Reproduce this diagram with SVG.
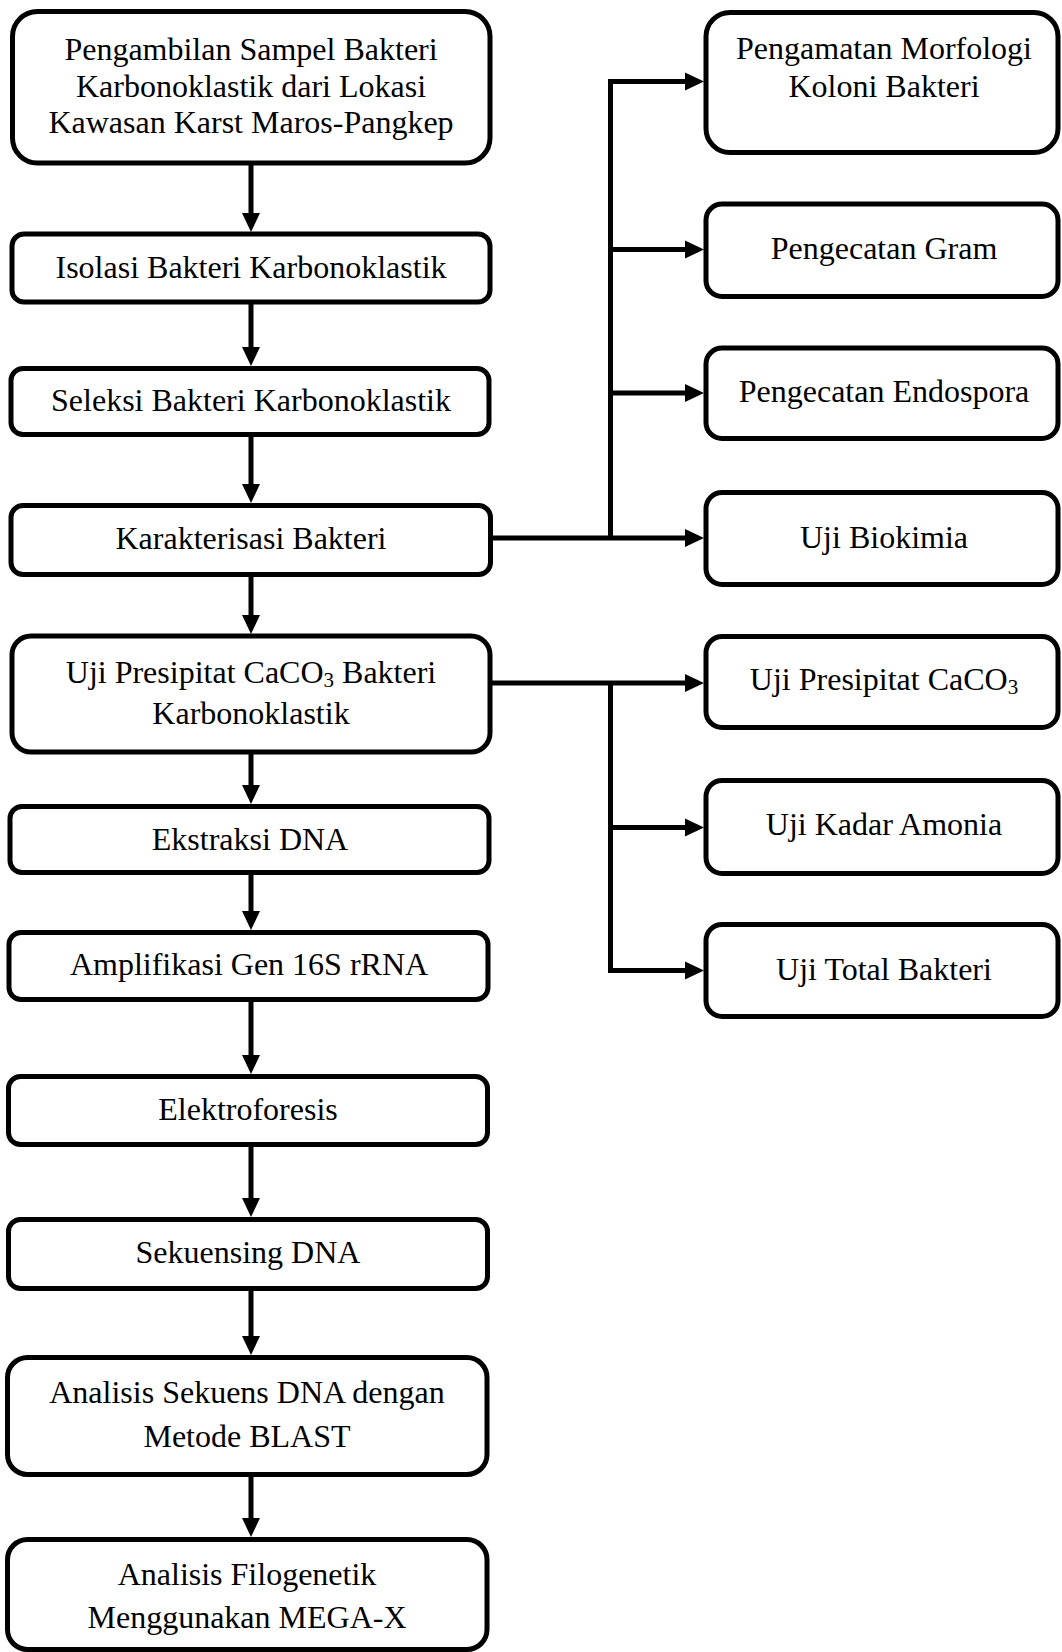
<svg xmlns="http://www.w3.org/2000/svg" width="1062" height="1652" viewBox="0 0 1062 1652">
  <style>
    .box { fill: #ffffff; stroke: #000000; stroke-width: 5; }
    .lbl { font-family: "Liberation Serif", "Times New Roman", serif; font-size: 32px; fill: #000000; text-anchor: middle; }
    .sub { font-size: 21px; }
    .con { fill: none; stroke: #000000; stroke-width: 5; stroke-linejoin: miter; stroke-linecap: butt; }
  </style>
  <defs>
    <marker id="ah" markerUnits="userSpaceOnUse" markerWidth="20" markerHeight="20" viewBox="0 0 20 20" refX="1" refY="10" orient="auto">
      <path d="M0,1 L19,10 L0,19 z" fill="#000000"/>
    </marker>
  </defs>
  <rect width="1062" height="1652" fill="#ffffff"/>

  <!-- connectors -->
  <g id="connectors">
    <!-- main column, top to bottom -->
    <path class="con" marker-end="url(#ah)" d="M251 165 V214"/>
    <path class="con" marker-end="url(#ah)" d="M251 304 V348"/>
    <path class="con" marker-end="url(#ah)" d="M251 437 V485"/>
    <path class="con" marker-end="url(#ah)" d="M251 577 V616"/>
    <path class="con" marker-end="url(#ah)" d="M251 754 V786"/>
    <path class="con" marker-end="url(#ah)" d="M251 875 V912"/>
    <path class="con" marker-end="url(#ah)" d="M251 1002 V1056"/>
    <path class="con" marker-end="url(#ah)" d="M251 1147 V1199"/>
    <path class="con" marker-end="url(#ah)" d="M251 1291 V1337"/>
    <path class="con" marker-end="url(#ah)" d="M251 1477 V1519"/>
    <!-- characterisation branch -->
    <path class="con" marker-end="url(#ah)" d="M490 538 H686"/>
    <path class="con" marker-end="url(#ah)" d="M610.5 538 V81.5 H686"/>
    <path class="con" marker-end="url(#ah)" d="M610.5 249.5 H686"/>
    <path class="con" marker-end="url(#ah)" d="M610.5 393 H686"/>
    <!-- precipitation branch -->
    <path class="con" marker-end="url(#ah)" d="M490 683 H686"/>
    <path class="con" marker-end="url(#ah)" d="M610.5 683 V970.5 H686"/>
    <path class="con" marker-end="url(#ah)" d="M610.5 827.5 H686"/>
  </g>

  <!-- main column -->
  <g id="n-sampling">
    <rect class="box" x="12.5" y="11.5" width="477.5" height="151.5" rx="25"/>
    <text class="lbl" x="251" y="60">Pengambilan Sampel Bakteri</text>
    <text class="lbl" x="251" y="96.5">Karbonoklastik dari Lokasi</text>
    <text class="lbl" x="251" y="133">Kawasan Karst Maros-Pangkep</text>
  </g>
  <g id="n-isolasi">
    <rect class="box" x="12" y="234" width="478" height="68" rx="12"/>
    <text class="lbl" x="251" y="278">Isolasi Bakteri Karbonoklastik</text>
  </g>
  <g id="n-seleksi">
    <rect class="box" x="11" y="368.5" width="478" height="66" rx="12"/>
    <text class="lbl" x="251" y="411">Seleksi Bakteri Karbonoklastik</text>
  </g>
  <g id="n-karakterisasi">
    <rect class="box" x="11" y="505.5" width="479.5" height="69" rx="12"/>
    <text class="lbl" x="251" y="549">Karakterisasi Bakteri</text>
  </g>
  <g id="n-presipitat">
    <rect class="box" x="12" y="636" width="478" height="116" rx="19"/>
    <text class="lbl" x="251" y="683">Uji Presipitat CaCO<tspan class="sub" dy="4">3</tspan><tspan dy="-4"> Bakteri</tspan></text>
    <text class="lbl" x="251" y="724">Karbonoklastik</text>
  </g>
  <g id="n-ekstraksi">
    <rect class="box" x="10" y="806.5" width="479" height="66" rx="12"/>
    <text class="lbl" x="250" y="850">Ekstraksi DNA</text>
  </g>
  <g id="n-amplifikasi">
    <rect class="box" x="9" y="932.5" width="479" height="67" rx="12"/>
    <text class="lbl" x="249" y="975">Amplifikasi Gen 16S rRNA</text>
  </g>
  <g id="n-elektroforesis">
    <rect class="box" x="8.5" y="1076.5" width="479" height="68" rx="12"/>
    <text class="lbl" x="248" y="1120">Elektroforesis</text>
  </g>
  <g id="n-sekuensing">
    <rect class="box" x="8.5" y="1219.5" width="479" height="69" rx="12"/>
    <text class="lbl" x="248" y="1263">Sekuensing DNA</text>
  </g>
  <g id="n-blast">
    <rect class="box" x="7.5" y="1357.5" width="479.5" height="117" rx="20"/>
    <text class="lbl" x="247" y="1403">Analisis Sekuens DNA dengan</text>
    <text class="lbl" x="247" y="1447">Metode BLAST</text>
  </g>
  <g id="n-filogenetik">
    <rect class="box" x="7.5" y="1539.5" width="479.5" height="110" rx="20"/>
    <text class="lbl" x="247" y="1585">Analisis Filogenetik</text>
    <text class="lbl" x="247" y="1628">Menggunakan MEGA-X</text>
  </g>

  <!-- right column -->
  <g id="n-morfologi">
    <rect class="box" x="706" y="12.5" width="352" height="140" rx="24"/>
    <text class="lbl" x="884" y="59">Pengamatan Morfologi</text>
    <text class="lbl" x="884" y="97">Koloni Bakteri</text>
  </g>
  <g id="n-gram">
    <rect class="box" x="706" y="204" width="352" height="92.5" rx="16"/>
    <text class="lbl" x="884" y="259">Pengecatan Gram</text>
  </g>
  <g id="n-endospora">
    <rect class="box" x="706" y="348" width="352" height="90.5" rx="16"/>
    <text class="lbl" x="884" y="402">Pengecatan Endospora</text>
  </g>
  <g id="n-biokimia">
    <rect class="box" x="706" y="492.5" width="352" height="92" rx="16"/>
    <text class="lbl" x="884" y="548">Uji Biokimia</text>
  </g>
  <g id="n-caco3">
    <rect class="box" x="706" y="636.5" width="352" height="91" rx="16"/>
    <text class="lbl" x="884" y="690">Uji Presipitat CaCO<tspan class="sub" dy="4">3</tspan></text>
  </g>
  <g id="n-amonia">
    <rect class="box" x="706" y="780.5" width="352" height="93" rx="16"/>
    <text class="lbl" x="884" y="835">Uji Kadar Amonia</text>
  </g>
  <g id="n-total">
    <rect class="box" x="706" y="924.5" width="352" height="92" rx="16"/>
    <text class="lbl" x="884" y="980">Uji Total Bakteri</text>
  </g>
</svg>
